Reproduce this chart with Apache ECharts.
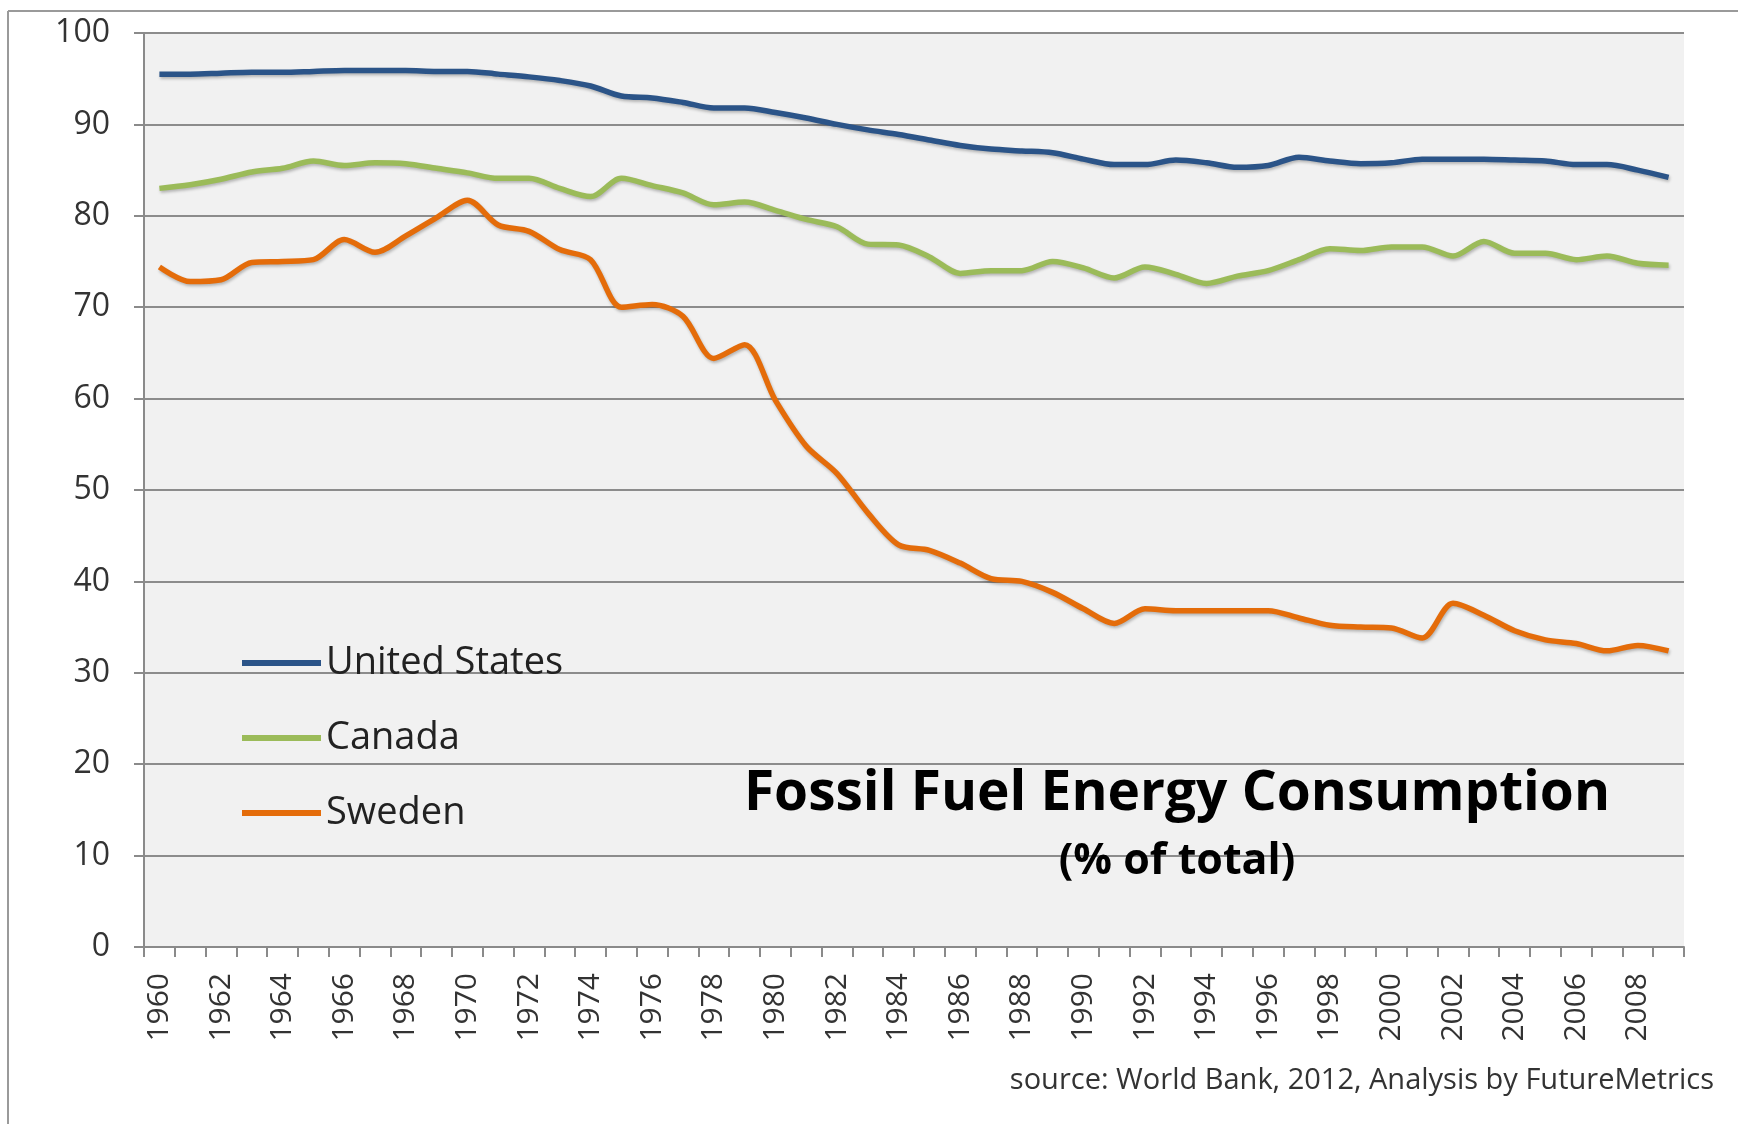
<!DOCTYPE html>
<html>
<head>
<meta charset="utf-8">
<script src="https://cdn.jsdelivr.net/npm/echarts@6/dist/echarts.min.js"></script>
<style>
html,body{margin:0;padding:0;background:#fff;}
#chart{width:1738px;height:1124px;}
</style>
</head>
<body>
<div id="chart"></div>
<script>
const years = ['1960','1961','1962','1963','1964','1965','1966','1967','1968','1969',
  '1970','1971','1972','1973','1974','1975','1976','1977','1978','1979',
  '1980','1981','1982','1983','1984','1985','1986','1987','1988','1989',
  '1990','1991','1992','1993','1994','1995','1996','1997','1998','1999',
  '2000','2001','2002','2003','2004','2005','2006','2007','2008','2009'];

const unitedStates = [95.5,95.5,95.6,95.7,95.7,95.8,95.9,95.9,95.9,95.8,
  95.8,95.5,95.2,94.8,94.2,93.1,92.9,92.4,91.8,91.8,
  91.3,90.7,90.0,89.4,88.9,88.3,87.7,87.3,87.1,86.9,
  86.2,85.6,85.6,86.1,85.8,85.3,85.5,86.4,86.0,85.7,
  85.8,86.2,86.2,86.2,86.1,86.0,85.6,85.6,85.0,84.2];

const canada = [83.0,83.4,84.0,84.8,85.2,86.0,85.5,85.8,85.7,85.2,
  84.7,84.1,84.1,83.0,82.1,84.1,83.3,82.5,81.2,81.5,
  80.6,79.6,78.8,76.9,76.8,75.5,73.7,74.0,74.0,75.0,
  74.3,73.2,74.4,73.6,72.6,73.4,74.0,75.2,76.4,76.2,
  76.6,76.6,75.6,77.2,75.9,75.9,75.2,75.6,74.8,74.6];

const sweden = [74.4,72.8,73.0,74.9,75.0,75.2,77.4,76.0,77.8,79.8,
  81.7,79.0,78.3,76.3,75.2,70.0,70.3,69.0,64.4,65.9,
  59.8,54.8,51.8,47.5,44.0,43.4,42.0,40.3,40.0,38.8,
  37.0,35.4,37.0,36.8,36.8,36.8,36.8,36.0,35.2,35.0,
  34.9,33.8,37.6,36.3,34.6,33.6,33.2,32.4,33.0,32.4];

const seriesNames = ['United States','Canada','Sweden'];
const seriesColors = ['#2b5488','#9bbb59','#e46c0a'];
const titleText = 'Fossil Fuel Energy Consumption';
const subtitleText = '(% of total)';
const sourceText = 'source: World Bank, 2012, Analysis by FutureMetrics';

const FONT = '"Open Sans", "Noto Sans", sans-serif';
const chart = echarts.init(document.getElementById('chart'));

function mkSeries(name, data, color) {
  return {
    name: name, type: 'line', data: data, smooth: 0.3,
    symbol: 'none', color: color,
    lineStyle: {width: 5.5, color: color, shadowColor: 'rgba(0,0,0,0.25)', shadowBlur: 3, shadowOffsetX: 1, shadowOffsetY: 2},
    z: 3
  };
}

chart.setOption({
  backgroundColor: '#ffffff',
  animation: false,
  title: [
    {text: titleText, left: 1177, top: 767, textAlign: 'center', padding: 0,
     textStyle: {fontFamily: FONT, fontWeight: 'bold', fontSize: 55, color: '#000'}},
    {text: subtitleText, left: 1177, top: 840, textAlign: 'center', padding: 0,
     textStyle: {fontFamily: FONT, fontWeight: 'bold', fontSize: 43, color: '#000'}},
    {text: sourceText, right: 24, top: 1066, padding: 0,
     textStyle: {fontFamily: FONT, fontWeight: 'normal', fontSize: 29, color: '#333'}}
  ],
  legend: {
    orient: 'vertical', left: 242, top: 644, itemGap: 37,
    itemWidth: 79, itemHeight: 6, icon: 'rect', padding: 0,
    data: seriesNames,
    textStyle: {fontFamily: FONT, fontSize: 38, color: '#222'}
  },
  grid: {left: 144, right: 54, top: 33, bottom: 177, show: true, backgroundColor: '#f1f1f1', borderWidth: 0},
  xAxis: {
    type: 'category', data: years, boundaryGap: true,
    axisLine: {lineStyle: {color: '#8a8a8a', width: 2}},
    axisTick: {show: true, interval: 0, length: 10, lineStyle: {color: '#8a8a8a', width: 2}},
    axisLabel: {interval: 1, rotate: 90, margin: 26, fontFamily: FONT, fontSize: 30, color: '#333'},
    splitLine: {show: false}
  },
  yAxis: {
    type: 'value', min: 0, max: 100, interval: 10,
    axisLine: {show: true, lineStyle: {color: '#8a8a8a', width: 2}},
    axisTick: {show: true, length: 10, lineStyle: {color: '#8a8a8a', width: 2}},
    axisLabel: {margin: 34, fontFamily: FONT, fontSize: 32, color: '#333'},
    splitLine: {show: true, lineStyle: {color: '#8c8c8c', width: 2}}
  },
  graphic: [
    {type: 'line', shape: {x1: 8, y1: 11, x2: 1738, y2: 11}, style: {stroke: '#9a9a9a', lineWidth: 2}, silent: true},
    {type: 'line', shape: {x1: 8, y1: 11, x2: 8, y2: 1124}, style: {stroke: '#9a9a9a', lineWidth: 2}, silent: true}
  ],
  series: [
    mkSeries(seriesNames[0], unitedStates, seriesColors[0]),
    mkSeries(seriesNames[1], canada, seriesColors[1]),
    mkSeries(seriesNames[2], sweden, seriesColors[2])
  ]
});
</script>
</body>
</html>
